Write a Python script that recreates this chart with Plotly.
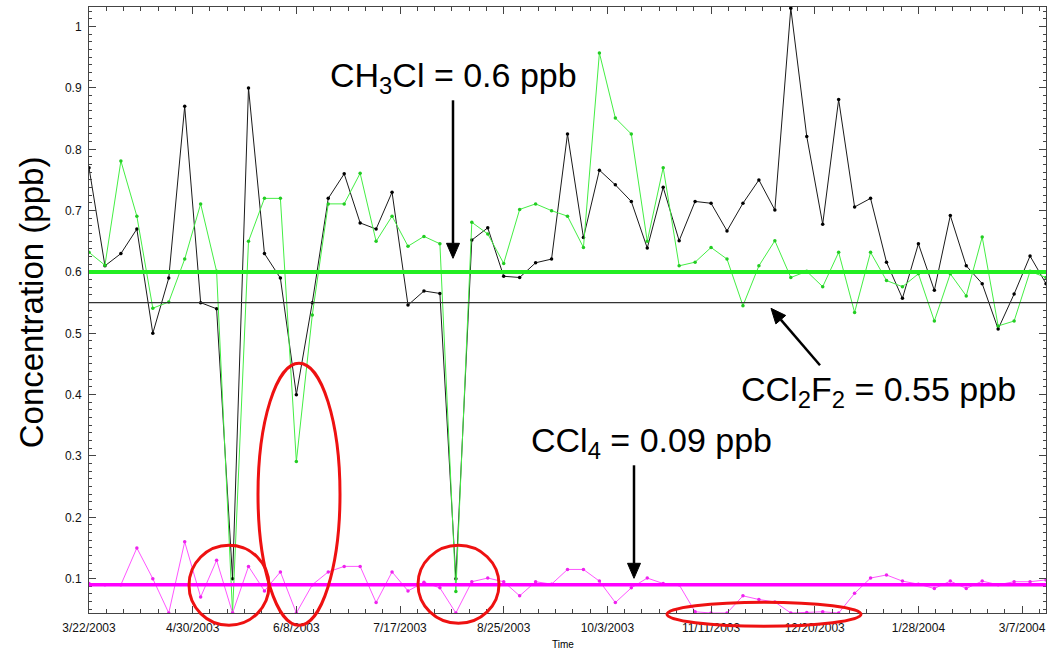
import math
import pandas as pd
import plotly.graph_objects as go

# Sampling schedule: one canister every 6 days
start_date = "2003-03-22"
n_samples = 61
sample_dates = pd.date_range(start_date, periods=n_samples, freq="6D")

# CCl2F2 (black), ppb
ccl2f2 = [0.77, 0.61, 0.63, 0.67, 0.50, 0.59, 0.87, 0.55, 0.54, 0.10,
          0.90, 0.63, 0.59, 0.40, 0.55, 0.72, 0.76, 0.68, 0.67, 0.73,
          0.546, 0.569, 0.565, 0.10, 0.652, 0.672, 0.593, 0.591, 0.615, 0.621,
          0.825, 0.656, 0.766, 0.742, 0.715, 0.639, 0.738, 0.651, 0.715, 0.712,
          0.667, 0.712, 0.750, 0.701, 1.03, 0.821, 0.678, 0.881, 0.706, 0.720,
          0.616, 0.557, 0.646, 0.570, 0.692, 0.610, 0.581, 0.507, 0.564, 0.626, 0.581]

# CH3Cl (green), ppb
ch3cl = [0.632, 0.611, 0.781, 0.691, 0.541, 0.551, 0.621, 0.711, 0.601, 0.044,
         0.650, 0.720, 0.720, 0.291, 0.530, 0.711, 0.711, 0.761, 0.650, 0.691,
         0.642, 0.658, 0.646, 0.079, 0.681, 0.662, 0.614, 0.702, 0.711, 0.700,
         0.691, 0.640, 0.957, 0.851, 0.825, 0.650, 0.770, 0.610, 0.616, 0.640,
         0.621, 0.545, 0.610, 0.651, 0.591, 0.601, 0.576, 0.632, 0.534, 0.632,
         0.586, 0.576, 0.597, 0.520, 0.597, 0.561, 0.657, 0.512, 0.520, 0.601, 0.591]

# CCl4 (magenta), ppb
ccl4 = [0.092, 0.090, 0.090, 0.150, 0.100, 0.044, 0.160, 0.070, 0.130, 0.044,
        0.120, 0.080, 0.111, 0.044, 0.090, 0.111, 0.120, 0.120, 0.061, 0.111,
        0.080, 0.094, 0.085, 0.044, 0.095, 0.101, 0.095, 0.072, 0.095, 0.091,
        0.115, 0.115, 0.096, 0.061, 0.085, 0.101, 0.092, 0.090, 0.046, 0.044,
        0.044, 0.072, 0.066, 0.062, 0.044, 0.045, 0.046, 0.044, 0.076, 0.101,
        0.106, 0.096, 0.091, 0.084, 0.096, 0.084, 0.096, 0.090, 0.095, 0.095, 0.098]

# Period averages, ppb
mean_ch3cl = 0.6
mean_ccl2f2 = 0.55
mean_ccl4 = 0.09

# Date axis labels
tick_dates = ["2003-03-22", "2003-04-30", "2003-06-08", "2003-07-17", "2003-08-25",
              "2003-10-03", "2003-11-11", "2003-12-20", "2004-01-28", "2004-03-07"]
tick_labels = ["3/22/2003", "4/30/2003", "6/8/2003", "7/17/2003", "8/25/2003",
               "10/3/2003", "11/11/2003", "12/20/2003", "1/28/2004", "3/7/2004"]

W, H = 1048, 651
L, R, T, B = 89, 1046, 6.7, 612.7
FONT = "Liberation Sans, Arial, sans-serif"


def px(x):
    return (x - L) / (R - L)


def py(y):
    return (B - y) / (B - T)


fig = go.Figure()

series = [
    ("CCl2F2", ccl2f2, "#1a1a1a", "#000000"),
    ("CH3Cl", ch3cl, "#44ee44", "#22cc22"),
    ("CCl4", ccl4, "#ff55ff", "#ee22ee"),
]
for name, vals, lc, mc in series:
    fig.add_trace(go.Scatter(
        x=sample_dates, y=vals, name=name, mode="lines+markers",
        line=dict(color=lc, width=1),
        marker=dict(color=mc, size=3.5),
        cliponaxis=True, showlegend=False,
    ))

# Average lines
fig.add_hline(y=mean_ch3cl, line=dict(color="#22ee22", width=4))
fig.add_hline(y=mean_ccl2f2, line=dict(color="#333333", width=1.3))
fig.add_hline(y=mean_ccl4, line=dict(color="#ff00ff", width=3.5))

# Highlighted low-value episodes
ellipses = [(189, 545, 269, 625), (258, 363, 340, 625), (418, 545, 499, 623), (667, 602, 861, 626)]
for x0, y0, x1, y1 in ellipses:
    fig.add_shape(type="circle", xref="paper", yref="paper",
                  x0=px(x0), x1=px(x1), y0=py(y1), y1=py(y0),
                  line=dict(color="#ee1111", width=3), layer="above")

big = dict(family=FONT, size=34, color="#000000")
labels = [
    ("CH<sub>3</sub>Cl = 0.6 ppb", 453, 77),
    ("CCl<sub>2</sub>F<sub>2</sub> = 0.55 ppb", 878, 391),
    ("CCl<sub>4</sub> = 0.09 ppb", 651, 442),
]
for txt, x, y in labels:
    fig.add_annotation(text=txt, xref="paper", yref="paper", x=px(x), y=py(y),
                       xanchor="center", yanchor="middle", showarrow=False, font=big)

# Pointer arrows: shaft plus filled triangular head
arrows = [((453, 258), (453, 100)), ((771, 308), (820, 365)), ((634, 578), (634, 465))]
head_len, head_half = 15, 6.5
for (tx, ty), (sx, sy) in arrows:
    dx, dy = tx - sx, ty - sy
    d = math.hypot(dx, dy)
    ux, uy = dx / d, dy / d
    bx, by = tx - ux * head_len, ty - uy * head_len
    fig.add_shape(type="line", xref="paper", yref="paper",
                  x0=px(sx), y0=py(sy), x1=px(bx), y1=py(by),
                  line=dict(color="#000000", width=2.5), layer="above")
    p1 = (bx - uy * head_half, by + ux * head_half)
    p2 = (bx + uy * head_half, by - ux * head_half)
    path = (f"M {px(tx)} {py(ty)} L {px(p1[0])} {py(p1[1])} "
            f"L {px(p2[0])} {py(p2[1])} Z")
    fig.add_shape(type="path", xref="paper", yref="paper", path=path,
                  fillcolor="#000000", line=dict(color="#000000", width=1), layer="above")

fig.add_annotation(text="Concentration (ppb)", xref="paper", yref="paper",
                   x=px(31), y=py(302), textangle=-90, showarrow=False,
                   xanchor="center", yanchor="middle",
                   font=dict(family=FONT, size=33, color="#000000"))
fig.add_annotation(text="Time", xref="paper", yref="paper", x=px(563), y=py(644),
                   showarrow=False, xanchor="center", yanchor="middle",
                   font=dict(family=FONT, size=10, color="#000000"))

fig.update_xaxes(
    type="date", range=[sample_dates[0], sample_dates[-1]],
    tickvals=tick_dates, ticktext=tick_labels,
    ticks="inside", ticklen=7, tickcolor="#444", tickwidth=1,
    minor=dict(dtick=6.5 * 86400000, tick0=start_date, ticks="inside", ticklen=4, tickcolor="#444"),
    showline=True, linecolor="#444", linewidth=1, mirror="allticks",
    showgrid=False, zeroline=False, ticklabelstandoff=4,
    tickfont=dict(family=FONT, size=12, color="#111"),
)
fig.update_yaxes(
    range=[0.044, 1.032], tickvals=[0.1, 0.2, 0.3, 0.4, 0.5, 0.6, 0.7, 0.8, 0.9, 1.0],
    ticktext=["0.1", "0.2", "0.3", "0.4", "0.5", "0.6", "0.7", "0.8", "0.9", "1"],
    ticks="inside", ticklen=7, tickcolor="#444", tickwidth=1,
    minor=dict(dtick=0.0125, tick0=0, ticks="inside", ticklen=3, tickcolor="#444"),
    showline=True, linecolor="#444", linewidth=1, mirror="allticks",
    showgrid=False, zeroline=False, ticklabelstandoff=4,
    tickfont=dict(family=FONT, size=12, color="#111"),
)
fig.update_layout(
    width=W, height=H,
    margin=dict(l=L, r=W - R, t=T, b=H - B),
    paper_bgcolor="white", plot_bgcolor="white",
    showlegend=False,
)

fig.write_html("out.html")
